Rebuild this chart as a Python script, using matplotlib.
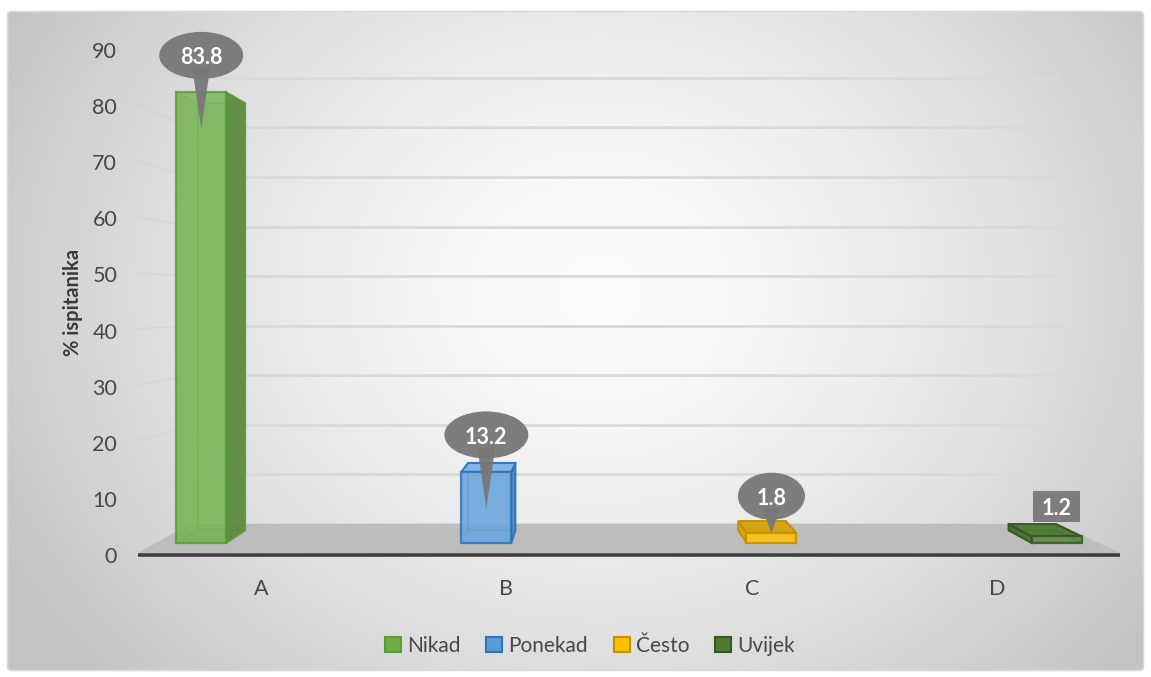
import numpy as np
import matplotlib
matplotlib.use("Agg")
import matplotlib.pyplot as plt
from matplotlib.patches import Polygon, Ellipse, Rectangle, FancyBboxPatch, Patch

# ---------------- data ----------------
categories = ["A", "B", "C", "D"]
series_names = ["Nikad", "Ponekad", "Često", "Uvijek"]
values = [83.8, 13.2, 1.8, 1.2]
y_ticks = [0, 10, 20, 30, 40, 50, 60, 70, 80, 90]
y_title = "% ispitanika"

# ---------------- style ----------------
front_col = ["#78b456", "#6ba5dd", "#ffc20f", "#5a8a3e"]
side_col = ["#5a8a3c", "#4f88c2", "#e0a800", "#476f2d"]
top_col = ["#8cc46a", "#80b3e6", "#d6a20c", "#4b7a31"]
edge_col = ["#5b9a38", "#2e75b6", "#bf9000", "#375623"]
legend_col = ["#70AD47", "#5B9BD5", "#FFC000", "#4e7a32"]
label_shape = ["callout", "callout", "callout", "box"]
TEXT_COL = "#474747"

plt.rcParams["font.family"] = ["Lato", "DejaVu Sans"]

W, H = 1151, 677
fig = plt.figure(figsize=(W / 100, H / 100), dpi=100)

# ---------- background (radial gradient + rounded frame) ----------
ax_bg = fig.add_axes([0, 0, 1, 1])
ax_bg.set_xlim(0, W)
ax_bg.set_ylim(H, 0)
ax_bg.axis("off")
yy, xx = np.mgrid[0:H, 0:W]
r = np.sqrt(((xx - 600) / 640.0) ** 2 + ((yy - 290) / 540.0) ** 2)
g = np.clip(252 - 52 * r ** 1.5, 195, 252) / 255.0
img = np.dstack([g, g, g])
frame = FancyBboxPatch((7.5, 11.5), 1136, 659, boxstyle="round,pad=0,rounding_size=4",
                       fc="none", ec="#d9d9d9", lw=1.2, zorder=3)
ax_bg.add_patch(frame)
im = ax_bg.imshow(img, extent=(0, W, H, 0), zorder=1, aspect="auto")
im.set_clip_path(frame)

# ---------- 3D-like plot axes (front-plane data coords) ----------
CAT0_PX, CAT_STEP_PX = 185.0, 297.0
BASE_PX, VAL_PX = 553.0, 5.6
VP_PX = (590.0, 300.0)
K_FLOOR, K_FRONT, K_BACK = 0.115, 0.04, 0.09
BAR_W = 0.175
FLOOR_X = (-0.158, 3.148)

ax = fig.add_axes([0, 0, 1, 1])
ax.set_xlim(-CAT0_PX / CAT_STEP_PX, (W - CAT0_PX) / CAT_STEP_PX)
ax.set_ylim((BASE_PX - H) / VAL_PX, BASE_PX / VAL_PX)
ax.axis("off")
ax.patch.set_visible(False)
sx, sy = CAT_STEP_PX, VAL_PX
XV = (VP_PX[0] - CAT0_PX) / CAT_STEP_PX
VV = (BASE_PX - VP_PX[1]) / VAL_PX


def proj(x, v, k):
    return x + k * (XV - x), v + k * (VV - v)


def poly(pts, **kw):
    p = Polygon([proj(*q) for q in pts], closed=True, **kw)
    ax.add_patch(p)
    return p


# gridlines (back wall + left side wall)
for t in y_ticks:
    a = proj(FLOOR_X[0], t, K_FLOOR)
    b = proj(FLOOR_X[1], t, K_FLOOR)
    ax.plot([a[0], b[0]], [a[1], b[1]], color="#d9d9d9", lw=2.0, zorder=1,
            solid_capstyle="butt")
    c = proj(FLOOR_X[0], t, 0)
    ax.plot([c[0], a[0]], [c[1], a[1]], color="#d4d4d4", lw=1.3, alpha=0.7, zorder=1)

# floor
poly([(FLOOR_X[0], 0, 0), (FLOOR_X[1], 0, 0), (FLOOR_X[1], 0, K_FLOOR), (FLOOR_X[0], 0, K_FLOOR)],
     fc="#bdbdbd", ec="none", zorder=2)
fa = proj(FLOOR_X[0], -0.3, 0)
fb = proj(FLOOR_X[1], -0.3, 0)
ax.plot([fa[0], fb[0]], [fa[1], fb[1]], color="#3f3f3f", lw=2.6, zorder=2.5,
        solid_capstyle="butt")

# bars
for i, val in enumerate(values):
    x0, x1 = i - BAR_W / 2, i + BAR_W / 2
    kf, kb = K_FRONT, K_BACK
    fr = [(x0, 0, kf), (x1, 0, kf), (x1, val, kf), (x0, val, kf)]
    bk = [(x0, 0, kb), (x1, 0, kb), (x1, val, kb), (x0, val, kb)]
    lf = [(x0, 0, kf), (x0, 0, kb), (x0, val, kb), (x0, val, kf)]
    rt = [(x1, 0, kf), (x1, 0, kb), (x1, val, kb), (x1, val, kf)]
    tp = [(x0, val, kf), (x1, val, kf), (x1, val, kb), (x0, val, kb)]
    bt = [(x0, 0, kf), (x1, 0, kf), (x1, 0, kb), (x0, 0, kb)]
    if x1 < XV:
        vis_side, hid_side = rt, lf
    else:
        vis_side, hid_side = lf, rt
    ec = edge_col[i]
    for face in (bk, hid_side, bt):
        poly(face, fc=front_col[i], alpha=0.35, ec=ec, lw=1.3, zorder=3)
    poly(vis_side, fc=side_col[i], alpha=0.92, ec=ec, lw=1.5, zorder=4)
    if val < VV:
        poly(tp, fc=top_col[i], alpha=0.92, ec=ec, lw=1.5, zorder=4)
    poly(fr, fc=front_col[i], alpha=0.82, ec=ec, lw=1.6, zorder=5)

# data labels
for i, val in enumerate(values):
    txt = f"{val:.1f}"
    xa, ya = proj(i, val, K_FRONT)
    if label_shape[i] == "callout":
        cy = ya + 37 / sy
        w = (16 + 17 * len(txt)) / sx
        h = 47 / sy
        tip_v = val - 6.8 if val > 6.8 else val
        xt, yt = proj(i, tip_v, K_FRONT)
        ax.add_patch(Polygon([(xa - 9 / sx, cy - 12 / sy), (xa + 9 / sx, cy - 12 / sy), (xt, yt)],
                             closed=True, fc="#777777", ec="none", alpha=0.95, zorder=9))
        ax.add_patch(Ellipse((xa, cy), w, h, fc="#777777", ec="none", alpha=0.95, zorder=9))
    else:
        cy = ya + 30 / sy
        w, h = 47 / sx, 31 / sy
        ax.add_patch(Rectangle((xa - w / 2, cy - h / 2), w, h, fc="#767676", ec="none",
                               alpha=0.92, zorder=9))
    ax.text(xa, cy - 2.5 / sy, txt, color="white", fontsize=15.5, fontweight="bold",
            ha="center", va="center", zorder=10)

# ---------- axis labels (front edge) ----------
ax_lab = fig.add_axes([138 / W, (H - 555) / H, (1120 - 138) / W, (555 - 50) / H])
ax_lab.set_xlim(0, len(categories))
ax_lab.set_ylim(0, 90)
ax_lab.patch.set_visible(False)
for s in ax_lab.spines.values():
    s.set_visible(False)
ax_lab.set_yticks(y_ticks)
ax_lab.set_yticklabels([str(t) for t in y_ticks])
ax_lab.set_xticks(np.arange(len(categories)) + 0.5)
ax_lab.set_xticklabels(categories)
ax_lab.tick_params(axis="y", length=0, pad=15, labelsize=15.5, labelcolor=TEXT_COL)
ax_lab.tick_params(axis="x", length=0, pad=17, labelsize=15.5, labelcolor=TEXT_COL)
fig.text(73 / W, 1 - 302 / H, y_title, rotation=90, ha="center", va="center",
         fontsize=14.5, fontweight="bold", color="#3a3a3a")

# ---------- legend ----------
handles = [Patch(fc=legend_col[i], ec=edge_col[i], lw=1.5, label=series_names[i])
           for i in range(len(series_names))]
fig.legend(handles=handles, loc="center", bbox_to_anchor=(590 / W, 1 - 646 / H), ncol=4,
           frameon=False, fontsize=15, handlelength=0.75, handleheight=0.75,
           handletextpad=0.3, columnspacing=1.25, labelcolor=TEXT_COL)

fig.savefig("out.png", dpi=100)
